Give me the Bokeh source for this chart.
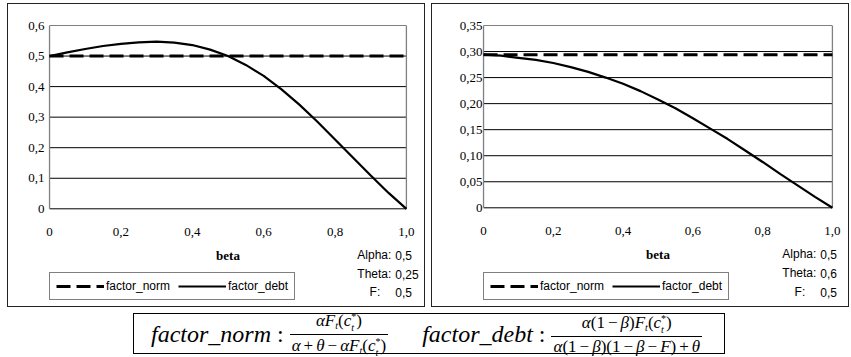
from bokeh.plotting import figure
from bokeh.models import Range1d, FixedTicker, Legend, LegendItem, Label, Div
from bokeh.layouts import row, column
from bokeh.embed import file_html
from bokeh.resources import INLINE

# ---------------- data ----------------
beta = [0.00, 0.05, 0.10, 0.15, 0.20, 0.25, 0.30, 0.35, 0.40, 0.45, 0.50,
        0.55, 0.60, 0.65, 0.70, 0.75, 0.80, 0.85, 0.90, 0.95, 1.00]
left_debt = [0.500, 0.512, 0.523, 0.533, 0.540, 0.545, 0.547, 0.544, 0.536, 0.521, 0.500,
             0.471, 0.435, 0.391, 0.341, 0.286, 0.227, 0.168, 0.109, 0.052, 0.000]
right_debt = [0.294, 0.292, 0.288, 0.284, 0.278, 0.270, 0.261, 0.250, 0.238, 0.224, 0.208,
              0.191, 0.172, 0.152, 0.132, 0.110, 0.088, 0.065, 0.043, 0.021, 0.000]
norm_beta = [0.0, 1.0]
left_norm = [0.500, 0.500]
right_norm = [0.294, 0.294]

x_ticks = [0.0, 0.2, 0.4, 0.6, 0.8, 1.0]
x_tick_labels = ["0", "0,2", "0,4", "0,6", "0,8", "1,0"]
left_y_ticks = [0.0, 0.1, 0.2, 0.3, 0.4, 0.5, 0.6]
left_y_labels = ["0", "0,1", "0,2", "0,3", "0,4", "0,5", "0,6"]
right_y_ticks = [0.0, 0.05, 0.10, 0.15, 0.20, 0.25, 0.30, 0.35]
right_y_labels = ["0", "0,05", "0,10", "0,15", "0,20", "0,25", "0,30", "0,35"]

left_params = [("Alpha:", "0,5"), ("Theta:", "0,25"), ("F:", "0,5")]
right_params = [("Alpha:", "0,5"), ("Theta:", "0,6"), ("F:", "0,5")]
series_names = ["factor_norm", "factor_debt"]
x_title = "beta"

SERIF = "Liberation Serif"
SANS = "Liberation Sans"
EXT_L = 6   # px the drawing frame reaches left of the plotting area


def make_panel(W, H, L, R, T, B, standoff, ymax, yticks, ylabels, debt, norm,
               params, param_pos):
    """L, R, T, B: pixel edges of the plotting area (x 0..1, y 0..ymax) on the canvas."""
    plot_w = R - L
    plot_h = B - T
    frame_left = L - EXT_L
    frame_right = W - 3
    frame_bottom = H - 2
    x_start = -EXT_L / plot_w
    x_end = (frame_right - L) / plot_w
    y_start = -(frame_bottom - B) / plot_h * ymax
    py = ymax / plot_h          # data units per pixel (y)

    p = figure(width=W, height=H, output_backend="svg", toolbar_location=None,
               x_range=Range1d(x_start, x_end), y_range=Range1d(y_start, ymax),
               min_border_left=frame_left, min_border_right=W - frame_right,
               min_border_top=T, min_border_bottom=H - frame_bottom,
               background_fill_color="white", border_fill_color="white")
    p.outline_line_color = None
    p.xgrid.visible = False
    p.ygrid.visible = False
    p.xaxis.visible = False

    # y axis (labels only; the axis line is drawn at x = 0 below)
    p.yaxis.ticker = FixedTicker(ticks=yticks)
    p.yaxis.major_label_overrides = dict(zip(yticks, ylabels))
    p.yaxis.bounds = (0, ymax)
    p.yaxis.major_tick_line_color = None
    p.yaxis.minor_tick_line_color = None
    p.yaxis.major_tick_out = 0
    p.yaxis.major_tick_in = 0
    p.yaxis.minor_tick_out = 0
    p.yaxis.axis_line_color = None
    p.yaxis.major_label_text_font = SERIF
    p.yaxis.major_label_text_font_size = "13px"
    p.yaxis.major_label_text_color = "black"
    p.yaxis.major_label_standoff = standoff

    # horizontal grid lines over the plotting area, edges of the plotting area
    n = len(yticks)
    p.segment(x0=[0] * n, y0=yticks, x1=[1] * n, y1=yticks, line_color="black", line_width=1)
    p.segment(x0=[0, 1], y0=[0, 0], x1=[0, 1], y1=[ymax, ymax],
              line_color="#808080", line_width=1.3)

    # x tick labels and title under the plotting area
    p.text(x=x_ticks, y=[-23 * py] * len(x_ticks), text=x_tick_labels,
           text_align="center", text_baseline="middle", text_font={"value": SERIF},
           text_font_size="13px", text_color="black")
    p.add_layout(Label(x=0.5, y=-46 * py, text=x_title, text_align="center",
                       text_baseline="middle", text_font=SERIF, text_font_style="bold",
                       text_font_size="13px", text_color="black"))

    r_norm = p.line(norm_beta, norm, line_color="black", line_width=3, line_dash="14 6")
    r_debt = p.line(beta, debt, line_color="black", line_width=2.2)

    legend = Legend(items=[LegendItem(label=series_names[0], renderers=[r_norm]),
                           LegendItem(label=series_names[1], renderers=[r_debt])],
                    orientation="horizontal", location=(EXT_L, 6))
    legend.border_line_color = "black"
    legend.border_line_width = 1
    legend.background_fill_color = "white"
    legend.background_fill_alpha = 1
    legend.label_text_font = SANS
    legend.label_text_font_size = "12px"
    legend.label_text_color = "black"
    legend.label_standoff = 2
    legend.glyph_width = 48
    legend.glyph_height = 14
    legend.label_height = 14
    legend.spacing = 8
    legend.padding = 6
    legend.margin = 0
    p.add_layout(legend, "center")

    # parameter text block (dy: px below y=0, dx: px relative to right edge of plotting area)
    for (name, val), (dy, name_dx, val_dx) in zip(params, param_pos):
        yy = -dy * py
        p.add_layout(Label(x=1 + name_dx / plot_w, y=yy, text=name, text_align="right",
                           text_baseline="middle", text_font=SANS,
                           text_font_size="12px", text_color="black"))
        p.add_layout(Label(x=1 + val_dx / plot_w, y=yy, text=val, text_align="left",
                           text_baseline="middle", text_font=SANS,
                           text_font_size="12px", text_color="black"))
    return p


left_pos = [(46, -15, -11), (65, -15, -11), (83, -26, -11)]
right_pos = [(46, -16, -12), (65, -16, -12), (84, -27, -12)]

p1 = make_panel(416, 302, 41, 396, 21, 203, -1, 0.6, left_y_ticks, left_y_labels,
                left_debt, left_norm, left_params, left_pos)
p2 = make_panel(416, 302, 51, 398, 21, 202, -5, 0.35, right_y_ticks, right_y_labels,
                right_debt, right_norm, right_params, right_pos)
for p in (p1, p2):
    p.styles = {"border": "1px solid #222", "box-sizing": "content-box"}
p1.margin = (3, 0, 0, 7)
p2.margin = (3, 0, 0, 6)

# ---------------- formula box ----------------
def op(sym):
    return '<span style="margin:0 3px;">' + sym + '</span>'


small = 'font-size:10px;'
cst = ('<i>c</i><span style="display:inline-block;vertical-align:middle;line-height:11px;'
       + small + 'text-align:left;">*<br><i>t</i></span>')
Ft = ('<i>F</i><span style="' + small + 'vertical-align:-3px;line-height:1;"><i>t</i></span>('
      + cst + ')')
num1 = '<i>&alpha;</i>' + Ft
den1 = '<i>&alpha;</i>' + op('+') + '<i>&theta;</i>' + op('&minus;') + '<i>&alpha;</i>' + Ft
num2 = '<i>&alpha;</i>(1' + op('&minus;') + '<i>&beta;</i>)' + Ft
den2 = ('<i>&alpha;</i>(1' + op('&minus;') + '<i>&beta;</i>)(1' + op('&minus;') + '<i>&beta;</i>'
        + op('&minus;') + '<i>F</i>)' + op('+') + '<i>&theta;</i>')

frac = ('<span style="display:inline-flex;flex-direction:column;align-items:center;'
        'font-size:17px;line-height:18px;">'
        '<span style="padding:0 2px 1px 2px;">{num}</span>'
        '<span style="border-top:1px solid black;padding:1px 2px 0 2px;">{den}</span></span>')

html = ('<div style="display:flex;align-items:center;justify-content:flex-start;height:41px;'
        'padding-left:17px;font-family:\'Liberation Serif\';color:black;white-space:nowrap;">'
        '<span style="font-style:italic;font-size:24px;">factor_norm</span>'
        '<span style="font-size:24px;">&nbsp;:&nbsp;</span>' + frac.format(num=num1, den=den1) +
        '<span style="display:inline-block;width:34px;"></span>'
        '<span style="font-style:italic;font-size:24px;">factor_debt</span>'
        '<span style="font-size:24px;">&nbsp;:&nbsp;</span>' + frac.format(num=num2, den=den2) +
        '</div>')

div = Div(text=html, width=592, height=41,
          styles={"border": "1px solid black", "background": "white"})
div.margin = (6, 0, 0, 133)

layout = column(row(p1, p2), div)

open("out.html", "w").write(file_html(layout, INLINE))
